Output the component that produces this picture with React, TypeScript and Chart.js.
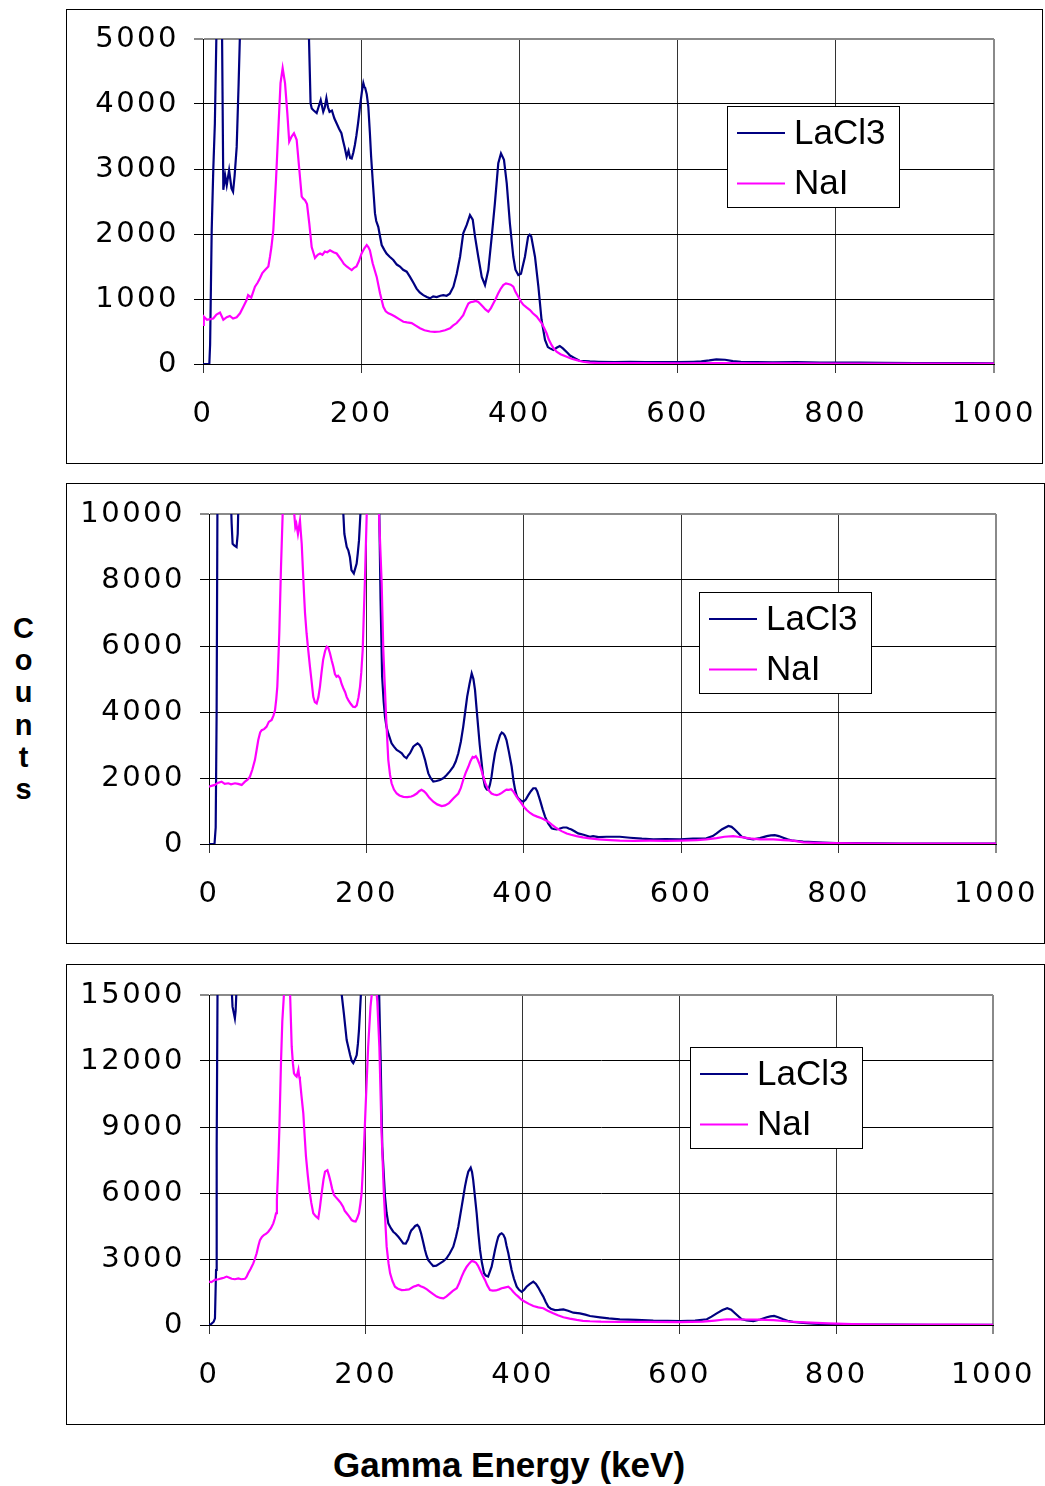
import React, { useEffect, useRef } from 'react';
import { Chart, registerables } from 'chart.js';

Chart.register(...registerables);

type Pt = [number, number];

const SERIES_LABELS = ['LaCl3', 'NaI'];
const SERIES_COLORS = ['#000080', '#FF00FF'];
const X_MIN = 0;
const X_MAX = 1000;
const X_STEP = 200;
const Y_MAXES = [5000, 10000, 15000];
const Y_STEPS = [1000, 2000, 3000];
const Y_TITLE = 'Counts';
const X_TITLE = 'Gamma Energy (keV)';

// ---- Panel 1 ----
const P1_LACL3: Pt[] = [
  [0, 0], [8, 0], [9, 300], [11, 2060], [13, 2990], [15, 3700], [17, 5100], [20, 6500], [24, 5200], [25.7, 2680],
  [28, 2900], [30, 2750], [33, 2980], [36, 2700], [38, 2650], [40, 2900], [42.6, 3340], [45, 4300], [47, 5200], [50, 6500],
  [60, 8000], [80, 9000], [100, 9000], [120, 7000], [130, 5600], [134, 5000], [136, 4010], [137.5, 3930], [140, 3900],
  [143.7, 3860], [146, 3950], [148.8, 4060], [152, 3880], [154, 3950], [156, 4090], [158, 3950], [160, 3880], [163, 3900],
  [166, 3780], [169, 3700], [172, 3620], [175, 3550], [177, 3440], [179, 3340], [181.6, 3190], [184, 3280], [186, 3170],
  [188, 3160], [190, 3250], [192, 3370], [194, 3520], [196, 3700], [199, 4010], [201, 4200], [202.7, 4320], [204, 4260],
  [205, 4250], [207, 4150], [209, 3960], [211, 3550], [212.5, 3200], [214.5, 2830], [217.4, 2320], [219, 2200], [221.6, 2110],
  [224, 1950], [225.9, 1830], [229, 1760], [232, 1700], [236, 1650], [240.6, 1600], [245, 1530], [249, 1500], [253, 1450],
  [257.5, 1420], [261.7, 1340], [266, 1250], [270, 1160], [274, 1100], [278.5, 1060], [283, 1030], [287, 1010], [291, 1040],
  [295.5, 1030], [300, 1050], [303.8, 1060], [308, 1050], [312, 1080], [316.6, 1190], [320.8, 1390], [325, 1650], [329, 2010],
  [333.4, 2140], [337.5, 2290], [341, 2220], [343.9, 1960], [348, 1650], [352.4, 1340], [356.5, 1215], [360.7, 1445], [365, 1960],
  [369, 2470], [373.3, 3090], [376.7, 3240], [380.5, 3140], [384, 2780], [388, 2160], [392.3, 1650], [395, 1450], [398.6, 1370],
  [402, 1390], [407, 1650], [411, 1960], [413, 1990], [415, 1960], [419.7, 1650], [424, 1190], [428, 680], [432.4, 370],
  [436, 260], [438.7, 240], [443, 215], [447, 250], [451, 277], [455, 240], [461, 170], [464, 130], [470, 90], [476, 50],
  [489, 40], [500, 35], [520, 30], [540, 32], [560, 28], [580, 30], [600, 30], [620, 35], [630, 40], [640, 55], [649, 72],
  [660, 65], [670, 45], [680, 35], [700, 30], [720, 25], [750, 28], [780, 22], [800, 20], [830, 22], [860, 18], [900, 15],
  [940, 15], [970, 12], [1000, 10],
];
const P1_NAI: Pt[] = [
  [0, 600], [1, 730], [5, 680], [9, 690], [13, 700], [17, 760], [21.5, 790], [25.7, 680], [30, 720], [34, 740], [38, 700],
  [42.6, 720], [46.8, 780], [51, 880], [55, 980], [57, 1060], [61, 1020], [65.7, 1190], [69, 1250], [72, 1320], [75, 1400],
  [78.4, 1445], [82.6, 1500], [84.7, 1650], [86.5, 1800], [88.9, 2060], [92.3, 2830], [95.2, 3600], [98, 4320], [100.7, 4550],
  [103.7, 4320], [106.6, 3860], [109, 3420], [112, 3500], [115, 3550], [118.4, 3450], [121.8, 2985], [124.8, 2575], [127, 2540],
  [129, 2520], [131.5, 2460], [134.4, 2160], [137.4, 1800], [141.6, 1630], [145, 1680], [148, 1700], [151, 1680], [154, 1730],
  [157, 1720], [160.6, 1750], [165, 1720], [169, 1700], [172, 1650], [175, 1600], [178, 1540], [181.6, 1500], [185, 1470],
  [188, 1445], [191, 1480], [194, 1500], [197, 1580], [200.5, 1700], [204, 1780], [207, 1830], [209, 1800], [211, 1750],
  [214.5, 1550], [219.6, 1340], [223.8, 1090], [228, 880], [231, 810], [234.4, 780], [238, 760], [242.7, 730], [248, 690],
  [253.3, 650], [258, 640], [263.8, 630], [269, 590], [274.3, 550], [280, 520], [287, 500], [293, 495], [299.6, 500], [306, 520],
  [312.3, 550], [316, 590], [320.7, 630], [325, 690], [329, 750], [332, 840], [335.5, 930], [338, 950], [341.8, 960], [345, 970],
  [348, 955], [351, 920], [354, 880], [357, 840], [360.7, 805], [364, 860], [367, 930], [370, 1000], [373.3, 1090], [376, 1150],
  [379.6, 1215], [383, 1240], [386, 1230], [389, 1220], [392.3, 1190], [395, 1110], [398.6, 1035], [402, 960], [405, 910],
  [409, 870], [413.4, 830], [417, 780], [421.9, 730], [425, 680], [428, 630], [431, 560], [434.5, 470], [437, 380], [440.8, 290],
  [444, 230], [447, 190], [452, 150], [459.8, 110], [466, 80], [472.4, 60], [480, 35], [489, 20], [500, 15], [550, 12],
  [600, 10], [650, 12], [700, 10], [750, 10], [800, 8], [900, 8], [1000, 8],
];

// ---- Panel 2 ----
const P2_LACL3: Pt[] = [
  [0, 0], [7, 0], [8.5, 500], [9.7, 4000], [11, 12000], [15, 25000], [22, 20000], [27, 11000], [28.8, 9700], [30, 9100],
  [32, 9050], [35, 9000], [36.5, 9400], [38, 11000], [45, 20000], [80, 30000], [120, 25000], [150, 16000], [165, 11500],
  [170.7, 10000], [172, 9400], [175, 9000], [177, 8900], [179, 8700], [181, 8300], [184, 8200], [187.6, 8500], [189, 8800],
  [190.6, 9200], [192.6, 10100], [196, 14000], [205, 30000], [212, 16000], [216.4, 10000], [218, 7400], [220, 5070], [222, 4300],
  [223.6, 3860], [225.5, 3550], [227.8, 3350], [232, 3050], [235, 2950], [238.5, 2850], [242, 2800], [245, 2750], [248, 2650],
  [251, 2600], [253, 2680], [255.4, 2750], [257.5, 2850], [259.6, 2950], [262, 3000], [265, 3050], [267.5, 3000], [270, 2900],
  [272, 2750], [274.5, 2550], [276.5, 2350], [278.7, 2140], [281.5, 2000], [285, 1890], [289, 1910], [293.5, 1940], [298, 2000],
  [302, 2090], [306, 2200], [310.4, 2340], [313.5, 2500], [316.8, 2750], [320, 3100], [323, 3550], [325.5, 4000], [328, 4460],
  [331, 4850], [333.8, 5170], [336, 5000], [338, 4670], [340, 4100], [342, 3550], [344, 3000], [346.5, 2440], [348.5, 2000],
  [350.7, 1740], [353, 1650], [355, 1640], [357, 1800], [359, 2040], [361, 2400], [363.4, 2750], [366, 3000], [369.8, 3300],
  [372, 3380], [374, 3350], [376, 3280], [378, 3150], [381, 2800], [384.6, 2340], [387, 1900], [389, 1640], [391, 1460],
  [393, 1380], [396, 1320], [399.4, 1280], [402.5, 1350], [405.7, 1480], [409, 1600], [412, 1690], [415, 1690], [417, 1600],
  [420.6, 1330], [424, 1050], [427, 830], [431, 620], [435.4, 475], [438, 455], [441.8, 440], [445, 460], [450, 500],
  [454.5, 500], [457, 470], [460.6, 440], [465, 380], [469, 320], [476, 280], [484, 220], [488, 240], [495, 210], [505, 220],
  [522, 220], [535, 190], [550, 160], [564.6, 140], [580, 150], [598.5, 140], [615, 160], [632, 170], [640, 240], [645, 320],
  [652, 450], [660, 545], [664, 520], [668, 440], [673, 320], [677, 220], [684, 170], [691.6, 140], [700, 180], [708.7, 240],
  [714, 260], [719, 270], [724, 240], [729.7, 190], [735, 140], [742, 100], [755, 75], [768, 60], [780, 45], [797.6, 30],
  [820, 25], [850, 18], [880, 15], [920, 12], [960, 12], [1000, 10],
];
const P2_NAI: Pt[] = [
  [0, 1740], [3, 1760], [7.6, 1790], [11, 1850], [16, 1890], [20, 1820], [24.6, 1840], [28, 1810], [33, 1840], [37, 1820],
  [41.5, 1790], [45.7, 1890], [49, 1950], [52, 2040], [55, 2250], [58.4, 2550], [60.5, 2850], [62.6, 3150], [65, 3380],
  [67, 3450], [70, 3480], [73, 3550], [76, 3700], [79.6, 3760], [82, 3900], [83.9, 4060], [85.5, 4400], [86.8, 4770],
  [88, 5500], [89.3, 6380], [91.5, 8400], [93.6, 10000], [96, 13000], [100, 16000], [104, 14000], [107, 11000], [108, 10100],
  [109.7, 9600], [111, 9700], [113, 9400], [115.6, 9800], [116.5, 9500], [117.8, 9100], [120.7, 7600], [122, 7000], [124, 6380],
  [126, 5900], [128.3, 5370], [130.5, 4900], [132.5, 4460], [134.5, 4300], [136.8, 4260], [139, 4450], [141, 4770], [143, 5200],
  [145, 5580], [147.5, 5850], [149.6, 5980], [151.5, 5950], [153.7, 5780], [156, 5550], [158, 5370], [160, 5150], [162, 5070],
  [164, 5100], [166.5, 5020], [168.5, 4850], [170.7, 4720], [173, 4600], [175, 4450], [177, 4360], [180, 4250], [183, 4160],
  [185.5, 4150], [187.7, 4200], [190, 4450], [191.9, 4770], [193.5, 5200], [195.3, 5880], [196.5, 6800], [198, 7900],
  [200.4, 10000], [204, 15000], [208, 20000], [212, 16000], [216, 10000], [219.4, 7900], [221.5, 5880], [225, 3860],
  [227.8, 2550], [230, 2100], [232, 1840], [235, 1650], [238.5, 1530], [242, 1470], [247, 1430], [252, 1420], [257, 1440],
  [260, 1470], [264, 1530], [267, 1600], [270, 1640], [273, 1600], [276, 1530], [280, 1400], [285, 1280], [290, 1200],
  [295.7, 1150], [300, 1170], [305, 1240], [310.4, 1380], [316.8, 1530], [320, 1700], [323, 1940], [326, 2150], [329.5, 2340],
  [332, 2500], [335, 2640], [337, 2620], [339, 2660], [341, 2580], [343.4, 2440], [346, 2250], [348.5, 2040], [351, 1850],
  [355, 1640], [359, 1530], [362, 1500], [365.6, 1480], [369, 1510], [372, 1550], [375, 1600], [378, 1650], [381, 1640],
  [384, 1660], [387, 1580], [391, 1430], [394, 1330], [397, 1230], [400, 1130], [403.7, 1030], [408, 940], [412, 880],
  [417, 830], [422.7, 780], [427, 730], [431, 680], [436, 580], [441.8, 475], [448, 390], [454.5, 320], [460, 280], [467, 240],
  [475, 200], [484, 170], [495, 140], [510, 120], [522, 100], [540, 95], [560, 100], [580, 95], [600, 105], [620, 120],
  [632, 140], [645, 180], [655, 220], [666, 240], [672, 220], [679, 200], [690, 160], [700, 140], [717, 140], [730, 120],
  [742, 100], [755, 50], [770, 35], [790, 25], [820, 18], [860, 15], [900, 12], [950, 10], [1000, 10],
];

// ---- Panel 3 ----
const P3_LACL3: Pt[] = [
  [0, 0], [3, 50], [6, 150], [7.6, 300], [9, 2500], [9.8, 8100], [11, 16000], [18, 30000], [25, 22000], [28, 16000],
  [30, 14470], [33, 13940], [34, 14300], [35, 15200], [40, 25000], [80, 40000], [140, 25000], [165, 16500], [169, 15100],
  [172, 14170], [175.6, 12950], [180, 12270], [182, 12000], [184, 11900], [186, 12050], [188.4, 12270], [190, 12800],
  [191.3, 13400], [194, 15200], [200, 30000], [212, 20000], [217, 15100], [219, 11900], [221, 8100], [224.5, 5830],
  [226.5, 5100], [228.7, 4620], [232, 4400], [235, 4240], [238, 4150], [241.5, 4010], [245, 3850], [247.8, 3710], [251, 3700],
  [254, 3900], [256.4, 4170], [258, 4300], [260.6, 4400], [263, 4500], [265.7, 4550], [268, 4450], [270.5, 4170], [273, 3800],
  [275.5, 3410], [277.5, 3150], [279.7, 2950], [283, 2800], [286, 2680], [290, 2700], [294.6, 2800], [299, 2900], [303, 3030],
  [307, 3250], [311.6, 3560], [315, 4000], [318, 4470], [320, 4900], [322.3, 5380], [324.5, 5850], [326.5, 6290], [328.5, 6650],
  [330.7, 6970], [333.8, 7150], [335.5, 6950], [337, 6590], [339, 5900], [341.4, 5080], [343.5, 4200], [345.7, 3410],
  [348, 2850], [350.8, 2350], [353, 2250], [356, 2200], [358, 2400], [360.5, 2650], [362.5, 3000], [364.8, 3410], [367, 3750],
  [369, 4010], [371, 4120], [373.3, 4170], [375.5, 4100], [377.6, 3940], [379.5, 3600], [381.8, 3260], [384, 2850], [386, 2500],
  [389, 2100], [392.5, 1740], [395.5, 1600], [398.8, 1510], [402, 1600], [405, 1740], [409, 1860], [413.7, 1970], [417, 1870],
  [420, 1700], [423, 1500], [426.4, 1290], [429.5, 1050], [432.8, 830], [436, 740], [441.3, 680], [446, 690], [452, 710],
  [458, 650], [464.7, 560], [473, 530], [480, 470], [486, 410], [498.7, 350], [510, 300], [524, 260], [545, 230], [566.7, 200],
  [585, 190], [600.8, 180], [620, 200], [635, 260], [641, 380], [647.6, 530], [655, 680], [661, 760], [666, 700], [672, 500],
  [679.5, 260], [686, 210], [694.4, 180], [703, 250], [711.4, 350], [716, 390], [720.8, 410], [726, 350], [732.5, 260],
  [738, 190], [745, 140], [758, 100], [771, 60], [785, 40], [800, 25], [830, 18], [870, 15], [920, 12], [1000, 10],
];
const P3_NAI: Pt[] = [
  [0, 1970], [3, 1950], [7.6, 2050], [12, 2080], [16, 2120], [19, 2150], [22.6, 2200], [26, 2150], [28.9, 2100], [33, 2080],
  [37.4, 2120], [41, 2080], [45.9, 2100], [48, 2200], [50, 2350], [53, 2550], [56.5, 2800], [58.5, 3000], [60.8, 3260],
  [63, 3600], [65, 3860], [67.5, 4000], [70, 4090], [73, 4150], [75.6, 4240], [79, 4400], [82, 4620], [84, 4850], [85.5, 5080],
  [86.6, 5700], [87.6, 6590], [88.7, 7700], [89.7, 8860], [91.8, 11900], [93.5, 13800], [95.7, 15100], [99, 22000],
  [102, 20000], [103.3, 15200], [105.5, 12650], [107, 11900], [108.4, 11440], [110, 11350], [111.8, 11290], [114, 11600],
  [115, 11300], [116, 11140], [118, 10400], [120.3, 9620], [122, 8600], [123.7, 7650], [126, 6800], [128, 6140], [130.5, 5550],
  [133, 5080], [136, 4950], [139.4, 4850], [141.5, 5350], [143.7, 5990], [146, 6600], [148, 6970], [151, 7040], [153, 6800],
  [155, 6520], [157, 6200], [159.4, 5910], [162, 5800], [165, 5680], [168, 5550], [171, 5380], [173, 5200], [175.6, 5080],
  [178.5, 4950], [182, 4770], [184.5, 4720], [187, 4700], [189, 4850], [191.3, 5080], [193, 5500], [194.7, 5990], [196, 6900],
  [197.7, 8100], [200.3, 10380], [203, 12650], [206, 14470], [209, 15500], [212, 15800], [214.7, 14700], [217.3, 12650],
  [220, 8860], [223.2, 5830], [226.6, 3560], [229, 2800], [231, 2350], [234, 2000], [237.2, 1740], [241, 1650], [245.8, 1590],
  [250, 1600], [255, 1620], [260.6, 1740], [264, 1780], [267, 1820], [270, 1760], [274, 1700], [278, 1620], [282, 1510],
  [286, 1400], [290.4, 1290], [295, 1230], [299, 1210], [303, 1300], [307.4, 1440], [311, 1550], [316, 1670], [319, 1900],
  [322.3, 2200], [325.5, 2450], [328.7, 2650], [332, 2800], [335, 2910], [338, 2880], [340.6, 2830], [343, 2700], [345.7, 2500],
  [349, 2250], [352, 2050], [355, 1800], [358.4, 1590], [362, 1560], [366, 1570], [370, 1620], [373.3, 1670], [377, 1700],
  [381.8, 1740], [385, 1640], [388, 1510], [391, 1400], [394.5, 1290], [398.5, 1150], [403, 1060], [408, 960], [413.7, 860],
  [420, 800], [426.4, 760], [432, 650], [439, 530], [445, 440], [452, 350], [460, 290], [469, 230], [477, 190], [486, 170],
  [500, 150], [524, 140], [560, 140], [600, 130], [630, 150], [645, 200], [660, 260], [668, 260], [680, 250], [700, 240],
  [720, 220], [740, 160], [760, 120], [790, 70], [820, 40], [860, 22], [900, 18], [950, 15], [1000, 12],
];

const PANEL_SERIES: Pt[][][] = [
  [P1_LACL3, P1_NAI],
  [P2_LACL3, P2_NAI],
  [P3_LACL3, P3_NAI],
];

// layout (pixels) per panel
const PANELS = [
  { left: 66, top: 9, width: 977, height: 455, axisW: 136, padTop: 29, padRight: 48, legend: { dx: 524, dy: 67 } },
  { left: 66, top: 483, width: 979, height: 461, axisW: 142, padTop: 30, padRight: 48, legend: { dx: 490, dy: 78 } },
  { left: 66, top: 964, width: 979, height: 461, axisW: 142, padTop: 30, padRight: 51, legend: { dx: 481, dy: 52 } },
];

const TICK_FONT = { family: '"DejaVu Sans", "Verdana", sans-serif', size: 29 };
const LETTER_SPACING = '2.5px';

const spacingPlugin = {
  id: 'tickSpacing',
  beforeLayout(chart: any) { chart.ctx.letterSpacing = LETTER_SPACING; },
  beforeDraw(chart: any) { chart.ctx.letterSpacing = LETTER_SPACING; },
};

const boxLegendPlugin = {
  id: 'boxLegend',
  afterDraw(chart: any, _args: any, opts: any) {
    const { ctx, chartArea } = chart;
    const x = Math.round(chartArea.left + opts.dx);
    const y = Math.round(chartArea.top + opts.dy);
    const w = 172;
    const h = 101;
    ctx.save();
    ctx.letterSpacing = '0px';
    ctx.fillStyle = '#ffffff';
    ctx.fillRect(x, y, w, h);
    ctx.strokeStyle = '#000000';
    ctx.lineWidth = 1;
    ctx.strokeRect(x + 0.5, y + 0.5, w, h);
    chart.data.datasets.forEach((ds: any, i: number) => {
      const cy = y + 27 + i * 50.5;
      ctx.strokeStyle = ds.borderColor;
      ctx.lineWidth = 2;
      ctx.beginPath();
      ctx.moveTo(x + 10, cy);
      ctx.lineTo(x + 58, cy);
      ctx.stroke();
      ctx.fillStyle = '#000000';
      ctx.font = '35px "Liberation Sans", Arial, sans-serif';
      ctx.textBaseline = 'middle';
      ctx.textAlign = 'left';
      ctx.fillText(ds.label, x + 67, cy + 1);
    });
    ctx.restore();
  },
};

const plainTick = (v: any) => String(v);
const noOverhang = (s: any) => {
  s.paddingLeft = 0;
  s.paddingRight = 0;
  s.paddingTop = 0;
  s.paddingBottom = 0;
};

function Panel({ index }: { index: number }) {
  const ref = useRef<HTMLCanvasElement | null>(null);
  const p = PANELS[index];
  const cw = p.width - 2;
  const ch = p.height - 2;
  useEffect(() => {
    if (!ref.current) return;
    const yMax = Y_MAXES[index];
    const series = PANEL_SERIES[index];
    const chart = new Chart(ref.current, {
      type: 'line',
      data: {
        datasets: series.map((s, i) => ({
          label: SERIES_LABELS[i],
          data: s.map(([x, y]) => ({ x, y })),
          borderColor: SERIES_COLORS[i],
          backgroundColor: SERIES_COLORS[i],
          borderWidth: 2.2,
          pointRadius: 0,
          tension: 0,
          fill: false,
          order: i === 0 ? 1 : 0,
        })),
      },
      options: {
        animation: false,
        responsive: false,
        devicePixelRatio: 1,
        events: [],
        layout: { padding: { left: 0, top: p.padTop, right: p.padRight, bottom: 0 } },
        plugins: {
          legend: { display: false },
          tooltip: { enabled: false },
          boxLegend: p.legend,
        } as any,
        scales: {
          x: {
            type: 'linear',
            min: X_MIN,
            max: X_MAX,
            ticks: { stepSize: X_STEP, font: TICK_FONT, color: '#000', padding: 24, maxRotation: 0, callback: plainTick },
            grid: {
              color: (c: any) => (c.tick && c.tick.value === X_MAX ? '#8a8a8a' : '#333333'),
              lineWidth: (c: any) => (c.tick && c.tick.value === X_MAX ? 2 : 1),
              tickLength: 9,
            },
            border: { display: true, color: '#000', width: 1 },
            afterFit: (s: any) => { s.height = 99; noOverhang(s); },
          },
          y: {
            type: 'linear',
            min: 0,
            max: yMax,
            ticks: { stepSize: Y_STEPS[index], font: TICK_FONT, color: '#000', padding: 15, callback: plainTick },
            grid: {
              color: (c: any) => (c.tick && c.tick.value === yMax ? '#8a8a8a' : '#000000'),
              lineWidth: (c: any) => (c.tick && c.tick.value === yMax ? 2 : 1),
              tickLength: 9,
            },
            border: { display: true, color: '#000', width: 1 },
            afterFit: (s: any) => { s.width = p.axisW; noOverhang(s); },
          },
        },
      } as any,
      plugins: [spacingPlugin, boxLegendPlugin],
    });
    return () => chart.destroy();
  }, [index]);
  return (
    <div
      style={{
        position: 'absolute',
        left: p.left,
        top: p.top,
        width: p.width,
        height: p.height,
        border: '1px solid #000',
        boxSizing: 'border-box',
        background: '#fff',
      }}
    >
      <canvas ref={ref} width={cw} height={ch} style={{ display: 'block', width: cw, height: ch }} />
    </div>
  );
}

export default function App() {
  return (
    <div
      style={{
        position: 'absolute',
        left: 0,
        top: 0,
        width: 1045,
        height: 1486,
        background: '#fff',
        overflow: 'hidden',
      }}
    >
      {PANELS.map((_, i) => (
        <Panel key={i} index={i} />
      ))}
      <div
        style={{
          position: 'absolute',
          left: 0,
          top: 612,
          width: 47,
          textAlign: 'center',
          fontFamily: '"Liberation Sans", Arial, sans-serif',
          fontWeight: 'bold',
          fontSize: 29,
          lineHeight: '32.2px',
          color: '#000',
        }}
      >
        {Y_TITLE.split('').map((ch, i) => (
          <div key={i}>{ch}</div>
        ))}
      </div>
      <div
        style={{
          position: 'absolute',
          left: 0,
          top: 1444,
          width: 1018,
          textAlign: 'center',
          fontFamily: '"Liberation Sans", Arial, sans-serif',
          fontWeight: 'bold',
          fontSize: 35,
          lineHeight: '42px',
          color: '#000',
        }}
      >
        {X_TITLE}
      </div>
    </div>
  );
}
